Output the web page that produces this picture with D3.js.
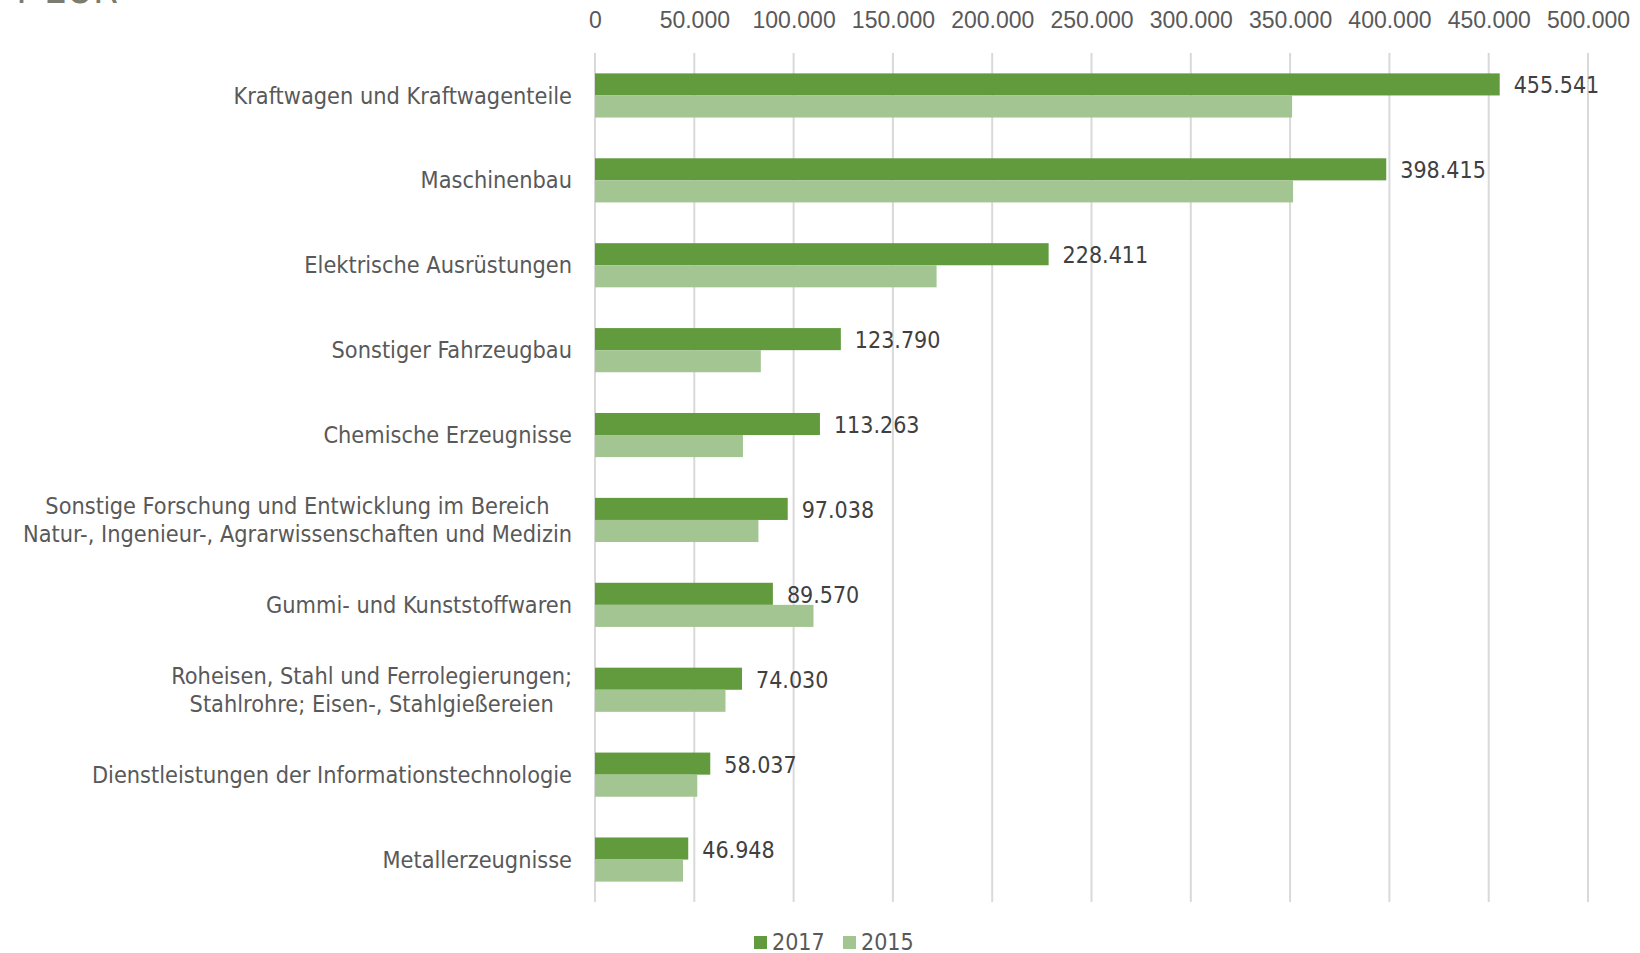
<!DOCTYPE html>
<html>
<head>
<meta charset="utf-8">
<script src="https://cdn.jsdelivr.net/npm/d3@7"></script>
<style>
  body { margin: 0; background: #fff; }
  svg { display: block; font-family: "DejaVu Sans Condensed", "DejaVu Sans", sans-serif; }
  .grid line { stroke: #d9d9d9; stroke-width: 2; }
  .tick-label { fill: #595959; font-size: 23px; }
  .cat-label { fill: #595959; font-size: 23.3px; }
  .value-label { fill: #404040; font-size: 23px; }
  .legend text { fill: #595959; font-size: 23px; }
</style>
</head>
<body>
<svg width="1640" height="953"></svg>
<script>
const categories = [
    ['Kraftwagen und Kraftwagenteile'],
    ['Maschinenbau'],
    ['Elektrische Ausrüstungen'],
    ['Sonstiger Fahrzeugbau'],
    ['Chemische Erzeugnisse'],
    ['Sonstige Forschung und Entwicklung im Bereich', 'Natur-, Ingenieur-, Agrarwissenschaften und Medizin'],
    ['Gummi- und Kunststoffwaren'],
    ['Roheisen, Stahl und Ferrolegierungen;', 'Stahlrohre; Eisen-, Stahlgießereien'],
    ['Dienstleistungen der Informationstechnologie'],
    ['Metallerzeugnisse']
];
const series = ['2017', '2015'];
const values2017 = [455541, 398415, 228411, 123790, 113263, 97038, 89570, 74030, 58037, 46948];
const values2015 = [351000, 351500, 172000, 83500, 74500, 82300, 110000, 65700, 51500, 44300];
const xTicks = [0, 50000, 100000, 150000, 200000, 250000, 300000, 350000, 400000, 450000, 500000];
const colors = { '2017': '#629a3e', '2015': '#a3c592' };

const de = d3.formatLocale({ decimal: ',', thousands: '.', grouping: [3], currency: ['', ' €'] });
const fmt = de.format(',.0f');

const margin = { left: 595, right: 52, top: 53, bottom: 51 };
const svg = d3.select('svg');
const width = +svg.attr('width');
const height = +svg.attr('height');
const innerWidth = width - margin.left - margin.right;
const innerHeight = height - margin.top - margin.bottom;

const rows = categories.map((c, i) => ({
    lines: c,
    key: c.join(' '),
    '2017': values2017[i],
    '2015': values2015[i]
}));

// unit caption, cut off at the top edge like in the original
svg.append('text')
    .attr('x', 118)
    .attr('y', 3)
    .attr('text-anchor', 'end')
    .style('font-size', '40px')
    .style('fill', '#7b7b70')
    .text('in T EUR');

const g = svg.append('g')
    .attr('transform', `translate(${margin.left},${margin.top})`);

const xScale = d3.scaleLinear()
    .domain([0, 500000])
    .range([0, innerWidth]);

const yScale = d3.scaleBand()
    .domain(rows.map(d => d.key))
    .range([0, innerHeight])
    .paddingInner(0.48)
    .paddingOuter(0.24);

const subScale = d3.scaleBand()
    .domain(series)
    .range([0, yScale.bandwidth()]);

// grid
const gridG = g.append('g').attr('class', 'grid');
gridG.selectAll('line')
    .data(xTicks)
    .join('line')
    .attr('x1', d => xScale(d))
    .attr('x2', d => xScale(d))
    .attr('y1', 0)
    .attr('y2', innerHeight);

// top axis labels
const xAxis = d3.axisTop(xScale)
    .tickValues(xTicks)
    .tickFormat(fmt)
    .tickSize(0)
    .tickPadding(0);
const xAxisG = g.append('g')
    .attr('transform', `translate(0, -33)`)
    .call(xAxis);
xAxisG.select('.domain').remove();
xAxisG.selectAll('text')
    .attr('class', 'tick-label')
    .attr('dy', '0.35em')
    .attr('fill', null)
    .attr('font-size', null)
    .attr('font-family', null);

// bars
const groups = g.selectAll('.cat')
    .data(rows)
    .join('g')
    .attr('class', 'cat')
    .attr('transform', d => `translate(0, ${yScale(d.key)})`);

groups.selectAll('rect')
    .data(d => series.map(s => ({ s, v: d[s] })))
    .join('rect')
    .attr('x', 0)
    .attr('y', d => subScale(d.s))
    .attr('width', d => xScale(d.v))
    .attr('height', subScale.bandwidth())
    .attr('fill', d => colors[d.s]);

// value labels for 2017
groups.append('text')
    .attr('class', 'value-label')
    .attr('x', d => xScale(d['2017']) + 14)
    .attr('y', subScale('2017') + subScale.bandwidth() / 2 + 1)
    .attr('dy', '0.35em')
    .text(d => fmt(d['2017']));

// category labels
const labelRight = -23;
groups.each(function(d) {
    const sel = d3.select(this);
    const cy = yScale.bandwidth() / 2;
    const lineH = 28;
    const t = sel.append('text')
        .attr('class', 'cat-label');
    d.lines.forEach((line, i) => {
        t.append('tspan')
            .attr('y', cy + (i - (d.lines.length - 1) / 2) * lineH)
            .attr('dy', '0.35em')
            .text(line);
    });
    const widths = [];
    t.selectAll('tspan').each(function() { widths.push(this.getComputedTextLength()); });
    const maxW = d3.max(widths);
    t.attr('text-anchor', 'middle');
    t.selectAll('tspan').attr('x', labelRight - maxW / 2);
});

// legend
const legend = svg.append('g')
    .attr('class', 'legend')
    .attr('transform', `translate(754, 942)`);
const legendX = [0, 89];
series.forEach((s, i) => {
    const item = legend.append('g').attr('transform', `translate(${legendX[i]}, 0)`);
    item.append('rect')
        .attr('x', 0)
        .attr('y', -6)
        .attr('width', 13)
        .attr('height', 13)
        .attr('fill', colors[s]);
    item.append('text')
        .attr('x', 18)
        .attr('y', 0)
        .attr('dy', '0.35em')
        .text(s);
});
</script>
</body>
</html>
